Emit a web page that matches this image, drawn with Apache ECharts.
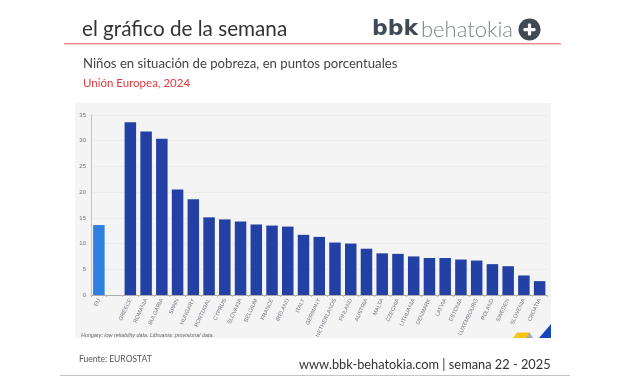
<!DOCTYPE html>
<html><head><meta charset="utf-8">
<style>html,body{margin:0;padding:0;background:#fff}#c{width:627px;height:376px}</style>
<script src="https://cdn.jsdelivr.net/npm/echarts@6/dist/echarts.min.js"></script>
</head><body><div id="c"></div>
<script>
const categories = ['EU','','GREECE','ROMANIA','BULGARIA','SPAIN','HUNGARY','PORTUGAL','CYPRUS','SLOVAKIA','BELGIUM','FRANCE','IRELAND','ITALY','GERMANY','NETHERLANDS','FINLAND','AUSTRIA','MALTA','CZECHIA','LITHUANIA','DENMARK','LATVIA','ESTONIA','LUXEMBOURG','POLAND','SWEDEN','SLOVENIA','CROATIA'];
const values = [13.6,null,33.6,31.8,30.4,20.5,18.6,15.1,14.7,14.3,13.7,13.5,13.3,11.7,11.3,10.2,10.0,9.0,8.1,8.0,7.5,7.2,7.2,6.9,6.7,6.0,5.6,3.8,2.7];

const chart = echarts.init(document.getElementById('c'), null, {renderer:'canvas'});
const F = 'Lato, "Open Sans", sans-serif';
function txt(x,y,text,size,fill,extra){
  return {type:'text',x,y,z:10,style:Object.assign({text,fontFamily:F,fontSize:size,fill,textVerticalAlign:'middle'},extra||{})};
}
chart.setOption({
  animation:false,
  backgroundColor:'#fff',
  grid:{left:91,right:79.5,top:115,bottom:81,containLabel:false},
  xAxis:{type:'category',data:categories,
    axisLine:{lineStyle:{color:'#aaaaaa',width:1}},
    axisTick:{show:true,length:2,lineStyle:{color:'#bbbbbb'}},
    axisLabel:{interval:0,rotate:65,fontSize:5.6,margin:4,color:'#6f737d',fontFamily:'"Liberation Sans",sans-serif'}},
  yAxis:{type:'value',min:0,max:35,interval:5,
    axisLine:{show:true,lineStyle:{color:'#c4c4c4',width:1}},
    axisTick:{show:false},
    axisLabel:{fontSize:6,margin:5,color:'#6f737d',fontFamily:'"Liberation Sans",sans-serif'},
    splitLine:{lineStyle:{color:'#ececec',width:1}}},
  series:[{type:'bar',barWidth:11.5,z:3,
    data:values.map((v,i)=> i===0 ? {value:v,itemStyle:{color:'#2f80e0'}} : v),
    itemStyle:{color:'#2340a4'}}],
  graphic:{elements:[
    {type:'rect',z:-10,silent:true,shape:{x:75,y:103,width:476,height:235},style:{fill:'#f4f4f4'}},
    {type:'polygon',z:5,shape:{points:[[513,338],[517,332.5],[530,332.5],[527,338]]},style:{fill:'#f5c518'}},
    {type:'polygon',z:5,shape:{points:[[526,338],[529.5,332.5],[533,338]]},style:{fill:'#a8a8a8'}},
    {type:'polygon',z:5,shape:{points:[[539,338],[551,324],[551,338]]},style:{fill:'#1546c0'}},
    {type:'rect',z:5,shape:{x:64,y:43,width:497,height:1.4},style:{fill:'#ef8f8f'}},
    {type:'rect',z:5,shape:{x:60,y:375,width:510,height:1},style:{fill:'#c4c4c4'}},
    txt(82,29,'el gráfico de la semana',20.7,'#333333'),
    txt(372,29.5,'bbk',22,'#3f4a54',{fontWeight:900,fontFamily:'"DejaVu Sans",sans-serif'}),
    txt(421,29.5,'behatokia',22,'#7b848c',{fontWeight:300}),
    {type:'circle',z:10,shape:{cx:529.5,cy:29.5,r:11},style:{fill:'#3f4a54'}},
    {type:'rect',z:11,shape:{x:523.5,y:28,width:12,height:3.2,r:1},style:{fill:'#fff'}},
    {type:'rect',z:11,shape:{x:527.9,y:23.5,width:3.2,height:12,r:1},style:{fill:'#fff'}},
    txt(83,64,'Niños en situación de pobreza, en puntos porcentuales',13.15,'#444444'),
    txt(83,83,'Unión Europea, 2024',11.5,'#e0393e'),
    txt(81,335,'Hungary: low reliability data. Lithuania: provisional data.',5.4,'#666666',{fontStyle:'italic',fontFamily:'"Liberation Sans",sans-serif'}),
    txt(79,359,'Fuente: EUROSTAT',8.5,'#555555'),
    txt(299,365,'www.bbk-behatokia.com | semana 22 - 2025',12.8,'#333333')
  ]}
});
</script></body></html>
